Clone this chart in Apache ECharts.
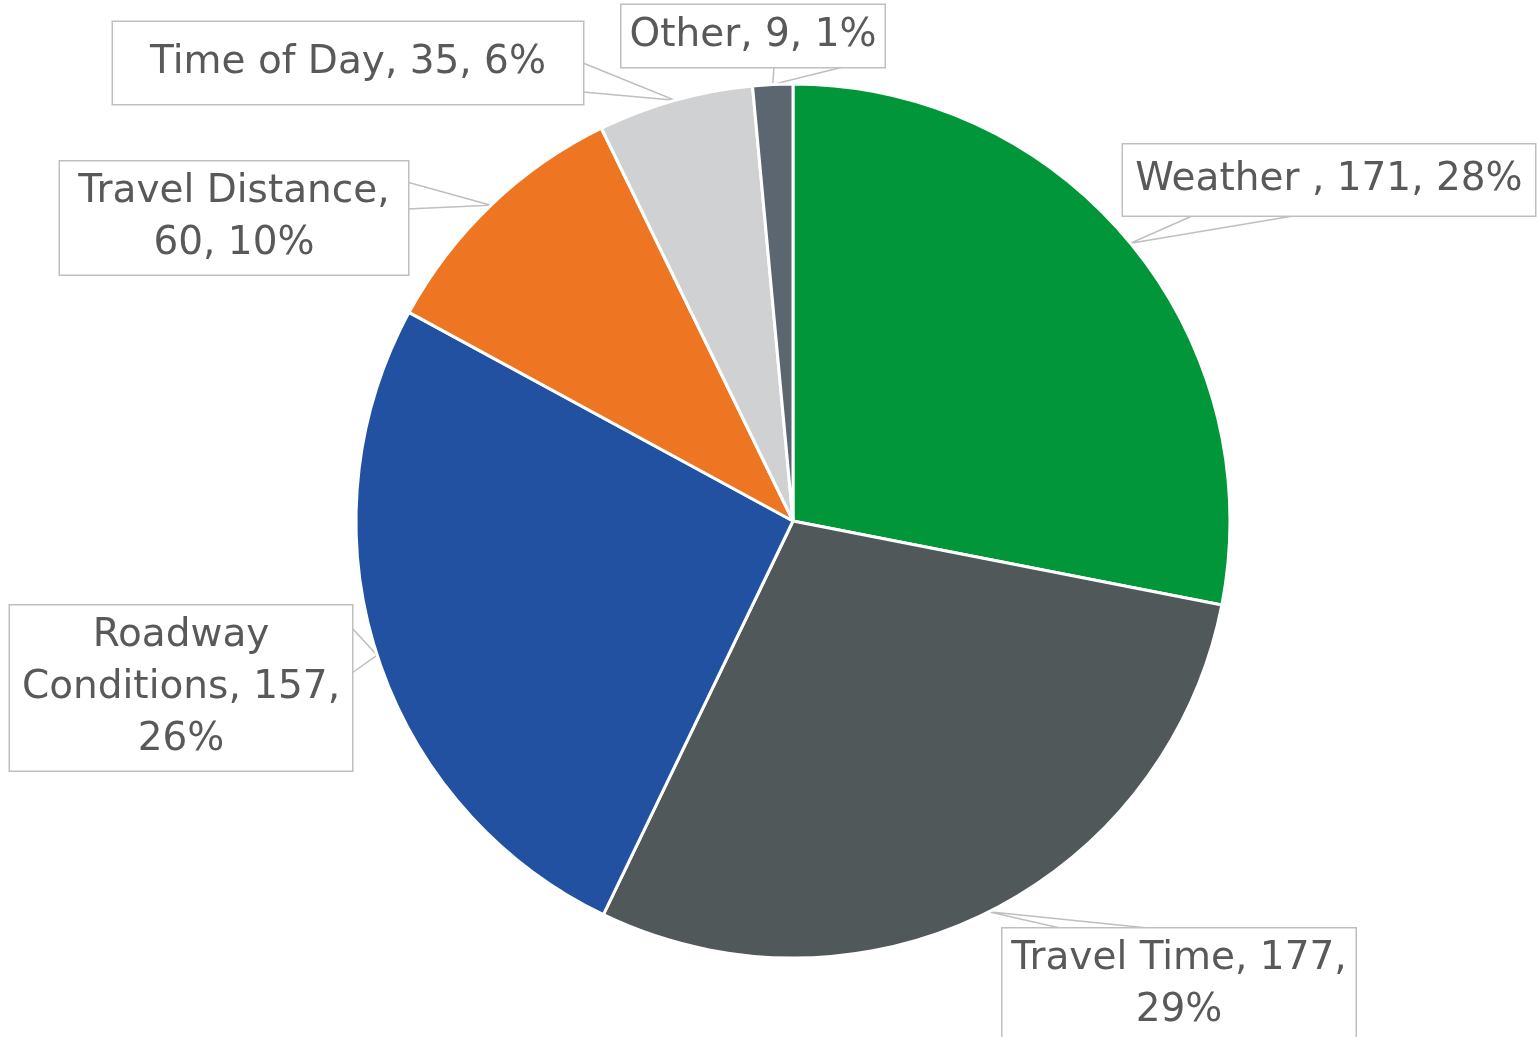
<!DOCTYPE html>
<html>
<head>
<meta charset="utf-8">
<script src="https://cdn.jsdelivr.net/npm/echarts@6/dist/echarts.min.js"></script>
<style>
  html, body { margin: 0; padding: 0; background: #fff; }
  #chart { width: 1537px; height: 1037px; }
</style>
</head>
<body>
<div id="chart"></div>
<script>
// data
const categories = ['Weather ', 'Travel Time', 'Roadway Conditions', 'Travel Distance', 'Time of Day', 'Other'];
const values = [171, 177, 157, 60, 35, 9];
const colors = ['#009639', '#505859', '#2251A1', '#EE7623', '#D0D1D3', '#5B6670'];

// label callout boxes: centre x, centre y, box width, box height
const labelBoxes = [
  [1329, 180, 412, 71],
  [1179, 985, 353, 113],
  [181, 688, 342, 165],
  [234, 218, 348, 113],
  [348, 63, 470, 82],
  [753, 36, 263, 62]
];
// callout pointer base points on the box edge (pointer tip is the slice edge)
const pointerBases = [
  [[1192, 216], [1293, 216]],
  [[1060, 928], [1148, 928]],
  [[352, 628], [352, 673]],
  [[407, 182], [407, 209]],
  [[583, 63], [583, 92]],
  [[774, 67], [843, 67]]
];
// where the label text breaks into lines
const labelBreaks = [
  (n, v, p) => `${n}, ${v}, ${p}%`,
  (n, v, p) => `${n}, ${v},\n${p}%`,
  (n, v, p) => `Roadway\nConditions, ${v},\n${p}%`,
  (n, v, p) => `${n},\n${v}, ${p}%`,
  (n, v, p) => `${n}, ${v}, ${p}%`,
  (n, v, p) => `${n}, ${v}, ${p}%`
];

const LINE_H = 52;
const TEXT_SHIFT = 4;

const chart = echarts.init(document.getElementById('chart'));

const seriesData = categories.map((name, i) => {
  const box = labelBoxes[i];
  const lines = labelBreaks[i]('', 0, 0).split('\n').length;
  const padV = (box[3] - lines * LINE_H) / 2;
  return {
    name: name,
    value: values[i],
    itemStyle: { color: colors[i] },
    label: { width: box[2] - 4, padding: [padV + TEXT_SHIFT, 2, padV - TEXT_SHIFT, 2] }
  };
});

chart.setOption({
  animation: false,
  series: [
    {
      type: 'pie',
      center: [793, 521],
      radius: 437,
      startAngle: 90,
      clockwise: true,
      avoidLabelOverlap: false,
      data: seriesData,
      itemStyle: { borderColor: '#ffffff', borderWidth: 3 },
      label: {
        show: true,
        position: 'outside',
        fontFamily: 'DejaVu Sans',
        fontSize: 39,
        lineHeight: LINE_H,
        color: '#595959',
        align: 'center',
        backgroundColor: '#ffffff',
        borderColor: '#BFBFBF',
        borderWidth: 1.5,
        formatter: (p) => labelBreaks[p.dataIndex](p.name, p.value, Math.round(p.percent))
      },
      labelLine: {
        show: true,
        length: 20,
        length2: 20,
        lineStyle: { color: '#BFBFBF', width: 1.5 }
      },
      labelLayout: (params) => {
        const i = params.dataIndex;
        const box = labelBoxes[i];
        const res = { x: box[0], y: box[1], align: 'center', verticalAlign: 'middle' };
        if (params.labelLinePoints) {
          const tip = params.labelLinePoints[0];
          res.labelLinePoints = [pointerBases[i][0], tip, pointerBases[i][1]];
        }
        return res;
      }
    }
  ]
});
</script>
</body>
</html>
